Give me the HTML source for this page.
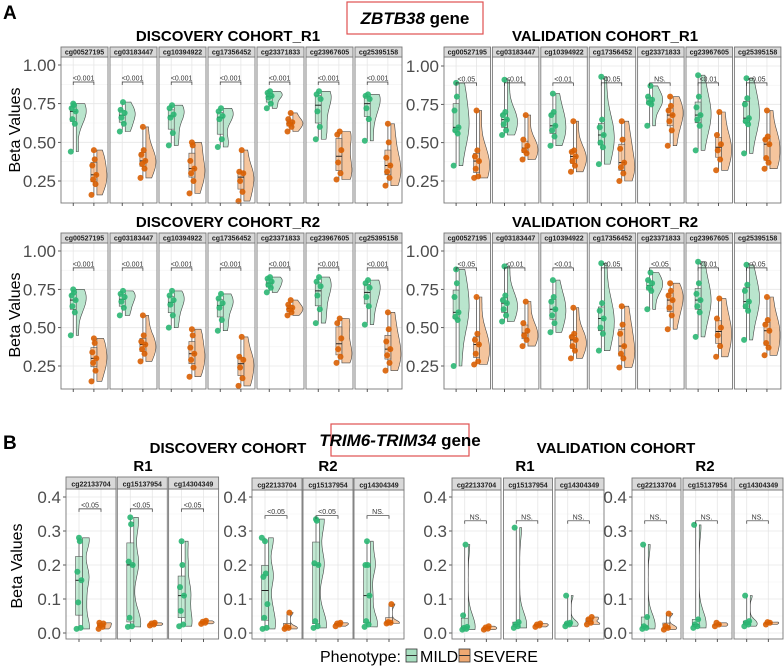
<!DOCTYPE html>
<html><head><meta charset="utf-8">
<style>
body{margin:0;background:#fff;}
svg{display:block;font-family:"Liberation Sans",sans-serif;}
</style></head>
<body>
<svg id="fig" width="784" height="668" viewBox="0 0 784 668" xmlns="http://www.w3.org/2000/svg">
<rect x="0" y="0" width="784" height="668" fill="#fff"/>
<text x="3" y="19" font-size="19" font-weight="bold">A</text>
<text x="3" y="449" font-size="19" font-weight="bold">B</text>
<rect x="347" y="2" width="136" height="32" fill="#fff" stroke="#e05050" stroke-width="1.2"/>
<text x="415" y="24" font-size="17" font-weight="bold" text-anchor="middle"><tspan font-style="italic">ZBTB38</tspan> gene</text>
<rect x="331" y="424" width="138" height="32" fill="#fff" stroke="#e05050" stroke-width="1.2"/>
<text x="400" y="446" font-size="17" font-weight="bold" text-anchor="middle"><tspan font-style="italic">TRIM6-TRIM34</tspan> gene</text>
<text x="228" y="41" font-size="15" font-weight="bold" text-anchor="middle">DISCOVERY COHORT_R1</text>
<text x="605" y="41" font-size="15" font-weight="bold" text-anchor="middle">VALIDATION COHORT_R1</text>
<text x="228" y="227" font-size="15" font-weight="bold" text-anchor="middle">DISCOVERY COHORT_R2</text>
<text x="605" y="227" font-size="15" font-weight="bold" text-anchor="middle">VALIDATION COHORT_R2</text>
<text x="228" y="453" font-size="15" font-weight="bold" text-anchor="middle">DISCOVERY COHORT</text>
<text x="616" y="453" font-size="15" font-weight="bold" text-anchor="middle">VALIDATION COHORT</text>
<text x="143" y="471" font-size="15" font-weight="bold" text-anchor="middle">R1</text>
<text x="328" y="471" font-size="15" font-weight="bold" text-anchor="middle">R2</text>
<text x="525" y="471" font-size="15" font-weight="bold" text-anchor="middle">R1</text>
<text x="705" y="471" font-size="15" font-weight="bold" text-anchor="middle">R2</text>
<text transform="translate(20,130) rotate(-90)" font-size="16" text-anchor="middle">Beta Values</text>
<text transform="translate(20,315) rotate(-90)" font-size="16" text-anchor="middle">Beta Values</text>
<text transform="translate(22,566) rotate(-90)" font-size="16" text-anchor="middle">Beta Values</text>
<g>
<text x="320" y="662" font-size="16">Phenotype:</text>
<g>
<rect x="406" y="649" width="11" height="13" fill="#a8dfc0" stroke="#333" stroke-width="0.8"/>
<line x1="406" y1="655.5" x2="417" y2="655.5" stroke="#333"/>
<text x="420" y="662" font-size="16">MILD</text></g>
<g>
<rect x="459" y="649" width="11" height="13" fill="#f0a972" stroke="#333" stroke-width="0.8"/>
<line x1="459" y1="655.5" x2="470" y2="655.5" stroke="#333"/>
<text x="473" y="662" font-size="16">SEVERE</text></g>
</g>
<g id="plots"></g>
</svg>
<script>
const probesA = ["cg00527195","cg03183447","cg10394922","cg17356452","cg23371833","cg23967605","cg25395158"];
const probesB = ["cg22133704","cg15137954","cg14304349"];
const ticksA = [0.25,0.5,0.75,1.0];
const tickLabelsA = ["0.25","0.50","0.75","1.00"];
const ticksB = [0,0.1,0.2,0.3,0.4];
const tickLabelsB = ["0.0","0.1","0.2","0.3","0.4"];

const dr1Mild = [[.44,.62,.65,.70,.72,.74,.75],[.57,.62,.66,.69,.71,.76],[.48,.56,.66,.68,.72,.74],[.47,.52,.65,.67,.70,.72],[.72,.75,.79,.80,.82,.83],[.52,.60,.70,.78,.81,.83],[.51,.65,.72,.78,.80,.81]];
const dr1Sev = [[.16,.23,.26,.29,.35,.39,.45],[.27,.33,.36,.38,.42,.45,.60],[.17,.25,.30,.33,.38,.48,.50],[.12,.18,.25,.30,.31,.45],[.57,.60,.62,.63,.65,.69],[.26,.30,.37,.45,.55,.57],[.22,.27,.31,.35,.40,.50,.62]];
const dr1P = ["<0.001","<0.001","<0.001","<0.001","<0.001","<0.001","<0.001"];
const vr1Mild = [[.35,.56,.58,.60,.71,.80,.89],[.55,.58,.62,.65,.68,.70,.91],[.48,.54,.58,.61,.68,.70,.82],[.36,.47,.50,.55,.60,.65,.93],[.61,.75,.76,.78,.80,.87],[.45,.61,.65,.68,.73,.80,.94],[.43,.62,.64,.66,.75,.79,.92]];
const vr1Sev = [[.27,.28,.33,.38,.41,.45,.71],[.39,.43,.45,.48,.52,.68],[.31,.35,.38,.41,.44,.45,.64],[.25,.30,.34,.37,.46,.52,.64],[.48,.58,.64,.68,.71,.74,.80],[.32,.39,.45,.49,.55,.70],[.33,.37,.40,.49,.52,.54,.71]];
const vr1P = ["<0.05","<0.01","<0.01","<0.05","NS.","<0.01","<0.05"];
const dr2Mild = [[.45,.60,.64,.68,.71,.73,.75],[.58,.63,.67,.70,.72,.74],[.50,.58,.65,.68,.71,.74],[.48,.55,.63,.66,.69,.72],[.73,.76,.78,.80,.82,.83],[.53,.62,.71,.77,.80,.83],[.52,.64,.70,.76,.79,.81]];
const dr2Sev = [[.15,.22,.27,.30,.34,.40,.43],[.28,.33,.36,.39,.41,.45,.58],[.18,.24,.29,.33,.37,.45,.49],[.12,.17,.24,.29,.31,.44],[.58,.60,.62,.63,.65,.68],[.27,.31,.36,.43,.53,.56],[.22,.27,.32,.36,.41,.49,.60]];
const dr2P = ["<0.001","<0.001","<0.001","<0.001","<0.001","<0.001","<0.001"];
const vr2Mild = [[.25,.55,.57,.60,.70,.79,.88],[.54,.58,.62,.66,.68,.71,.90],[.47,.53,.58,.62,.67,.70,.81],[.35,.46,.50,.56,.61,.66,.92],[.62,.74,.76,.79,.81,.86],[.44,.60,.64,.68,.72,.79,.93],[.42,.61,.64,.67,.74,.78,.91]];
const vr2Sev = [[.26,.28,.33,.39,.42,.46,.70],[.38,.42,.45,.48,.53,.67],[.30,.35,.38,.42,.44,.46,.63],[.24,.30,.33,.38,.46,.52,.64],[.49,.58,.63,.68,.71,.74,.79],[.31,.38,.45,.50,.56,.69],[.32,.37,.40,.48,.52,.55,.70]];
const vr2P = ["<0.05","<0.01","<0.01","<0.05","<0.05","<0.01","<0.05"];

const bdr1Mild = [[.012,.015,.09,.155,.18,.27,.28],[.018,.02,.045,.20,.21,.32,.34],[.02,.025,.065,.11,.135,.20,.27]];
const bdr1Sev = [[.012,.018,.022,.028,.03],[.022,.025,.028,.03],[.027,.03,.033,.036]];
const bdr1P = ["<0.05","<0.05","<0.05"];
const bdr2Mild = [[.012,.015,.045,.085,.165,.175,.27,.28],[.015,.02,.035,.20,.205,.33,.335],[.018,.025,.035,.11,.2,.2,.27]];
const bdr2Sev = [[.012,.015,.018,.06],[.02,.025,.028,.03],[.028,.03,.032,.085]];
const bdr2P = ["<0.05","<0.05","NS."];
const bvr1Mild = [[.01,.012,.015,.018,.052,.26],[.015,.02,.025,.032,.31],[.02,.025,.028,.03,.11]];
const bvr1Sev = [[.01,.013,.016,.02],[.018,.022,.025,.028],[.025,.03,.04,.047]];
const bvr1P = ["NS.","NS.","NS."];
const bvr2Mild = [[.012,.015,.02,.047,.26],[.015,.02,.025,.04,.318],[.02,.025,.03,.035,.11]];
const bvr2Sev = [[.01,.015,.02,.057],[.02,.025,.03],[.025,.03,.032]];
const bvr2P = ["NS.","NS.","NS."];

const NS="http://www.w3.org/2000/svg";
const root=document.getElementById('plots');
function el(tag,attrs,parent){const e=document.createElementNS(NS,tag);for(const k in attrs)e.setAttribute(k,attrs[k]);(parent||root).appendChild(e);return e;}
function q(a,p){const s=[...a].sort((x,y)=>x-y);const i=(s.length-1)*p;const lo=Math.floor(i),hi=Math.ceil(i);return s[lo]+(s[hi]-s[lo])*(i-lo);}
const jit=[-3,2,-1,3,-2,1,0,-4,4];

function panel(cfg){
  const {name,x0,pitch,w,stripTop,stripH,bottom,v1,y1,v2,y2,probes,ticks,tlab,mild,sev,pv,bracketV,vmax,showTicks,fs,bw0,boxW}=cfg;
  const Y=v=>y1+(v-v1)*(y2-y1)/(v2-v1);
  const top=stripTop+stripH;
  const g=el('g',{});
  
  
  ticks.forEach((t,i)=>{
    const tl=el('text',{x:x0-5,y:Y(t)+6,'font-size':fs,fill:'#4d4d4d','text-anchor':'end'},g);
    
    
    tl.textContent=tlab[i];
    el('line',{x1:x0-3,x2:x0,y1:Y(t),y2:Y(t),stroke:'#333','stroke-width':0.8},g);
  });
  probes.forEach((p,i)=>{
    const fx=x0+i*pitch;
    const fg=el('g',{},g);
    
    
    el('rect',{x:fx,y:top,width:w,height:bottom-top,fill:'#fff'},fg);
    for(let k=0;k<ticks.length;k++){
      el('line',{x1:fx,x2:fx+w,y1:Y(ticks[k]),y2:Y(ticks[k]),stroke:'#e6e6e6','stroke-width':0.8},fg);
      if(k<ticks.length-1){const m=(ticks[k]+ticks[k+1])/2;el('line',{x1:fx,x2:fx+w,y1:Y(m),y2:Y(m),stroke:'#f2f2f2','stroke-width':0.6},fg);}
    }
    const xm=fx+w*0.26, xs=fx+w*0.7;
    [xm,xs].forEach(xx=>{el('line',{x1:xx,x2:xx,y1:top,y2:bottom,stroke:'#e6e6e6','stroke-width':0.8},fg);});
    if(showTicks)[xm,xs].forEach(xx=>{el('line',{x1:xx,x2:xx,y1:bottom,y2:bottom+3,stroke:'#333','stroke-width':0.8},g);});
    [[mild[i],xm,'#a8dfc0','#2bb673'],[sev[i],xs,'#f3b684','#d95f02']].forEach(([d,xx,fill,pc],gi)=>{
      const lo=Math.min(...d),hi=Math.max(...d);
      const bw=Math.max((hi-lo)*bw0,0.004);
      const n=30;const dens=[];
      for(let k=0;k<=n;k++){const v=lo+(hi-lo)*k/n;let s=0;d.forEach(z=>{s+=Math.exp(-0.5*((v-z)/bw)**2);});dens.push([v,s]);}
      const mx=Math.max(...dens.map(a=>a[1]));
      const vx=xx+boxW/2;
      let path='M'+vx+','+Y(lo);
      dens.forEach(([v,s])=>{path+=' L'+(vx+vmax*s/mx).toFixed(1)+','+Y(v).toFixed(1);});
      path+=' L'+vx+','+Y(hi)+' Z';
      const vp=el('path',{d:path,fill:fill,'fill-opacity':0.8,stroke:'#444','stroke-width':0.6},fg);
      
      
      const q1=q(d,.25),q3=q(d,.75),md=q(d,.5);
      el('line',{x1:xx,x2:xx,y1:Y(lo),y2:Y(hi),stroke:'#444','stroke-width':0.7},fg);
      const br=el('rect',{x:xx-boxW/2,y:Y(q3),width:boxW,height:Math.max(Y(q1)-Y(q3),0.5),fill:fill,'fill-opacity':0.7,stroke:'#555','stroke-width':0.6},fg);
      
      
      el('line',{x1:xx-boxW/2,x2:xx+boxW/2,y1:Y(md),y2:Y(md),stroke:'#222','stroke-width':1},fg);
      d.forEach((v,k)=>{
        const c=el('circle',{cx:xx+jit[k%jit.length]*0.8,cy:Y(v),r:3,fill:pc,'fill-opacity':0.9},fg);
        
        
      });
    });
    const by=Y(bracketV);
    el('path',{d:`M${xm},${by+3} L${xm},${by} L${xs},${by} L${xs},${by+3}`,fill:'none',stroke:'#333','stroke-width':0.7},fg);
    const pt=el('text',{x:(xm+xs)/2,y:by-1.5,'font-size':7,fill:'#333','text-anchor':'middle'},fg);
    
    
    pt.textContent=pv[i];
    el('rect',{x:fx,y:top,width:w,height:bottom-top,fill:'none',stroke:'#777','stroke-width':0.9},fg);
    const sr=el('rect',{x:fx,y:stripTop,width:w,height:stripH,fill:'#d9d9d9',stroke:'#777','stroke-width':0.9},fg);
    
    
    const st=el('text',{x:fx+w/2,y:stripTop+stripH-2.5,'font-size':7,'font-weight':'bold',fill:'#222','text-anchor':'middle'},fg);
    
    
    st.textContent=p;
  });
}
const A={probes:probesA,ticks:ticksA,tlab:tickLabelsA,v1:1.0,v2:0.25,vmax:10,showTicks:true,fs:17,bracketV:0.89,bw0:0.22,boxW:6};
panel({...A,name:'discovery-r1',x0:61,pitch:49,w:47,stripTop:47,stripH:10,bottom:203,y1:65,y2:181,mild:dr1Mild,sev:dr1Sev,pv:dr1P});
panel({...A,name:'validation-r1',x0:444,pitch:48.4,w:46.5,stripTop:47,stripH:10,bottom:203,y1:66,y2:181,mild:vr1Mild,sev:vr1Sev,pv:vr1P});
panel({...A,name:'discovery-r2',x0:61,pitch:49,w:47,stripTop:233,stripH:10,bottom:389,y1:251,y2:366,mild:dr2Mild,sev:dr2Sev,pv:dr2P});
panel({...A,name:'validation-r2',x0:444,pitch:48.4,w:46.5,stripTop:233,stripH:10,bottom:389,y1:251,y2:366,mild:vr2Mild,sev:vr2Sev,pv:vr2P});
const B={probes:probesB,ticks:ticksB,tlab:tickLabelsB,v1:0,v2:0.4,vmax:7,showTicks:true,fs:17,bw0:0.12,boxW:7};
panel({...B,name:'b-discovery-r1',x0:66,pitch:51.3,w:50,stripTop:477,stripH:12,bottom:639,y1:633,y2:497,mild:bdr1Mild,sev:bdr1Sev,pv:bdr1P,bracketV:0.365});
panel({...B,name:'b-discovery-r2',x0:252,pitch:51,w:50,stripTop:478,stripH:12,bottom:639,y1:633,y2:497,mild:bdr2Mild,sev:bdr2Sev,pv:bdr2P,bracketV:0.345});
panel({...B,name:'b-validation-r1',x0:452,pitch:51.5,w:49,stripTop:478,stripH:12,bottom:639,y1:633,y2:497,mild:bvr1Mild,sev:bvr1Sev,pv:bvr1P,bracketV:0.33});
panel({...B,name:'b-validation-r2',x0:632,pitch:51,w:49,stripTop:478,stripH:12,bottom:639,y1:633,y2:497,mild:bvr2Mild,sev:bvr2Sev,pv:bvr2P,bracketV:0.33});
</script>
</body></html>
